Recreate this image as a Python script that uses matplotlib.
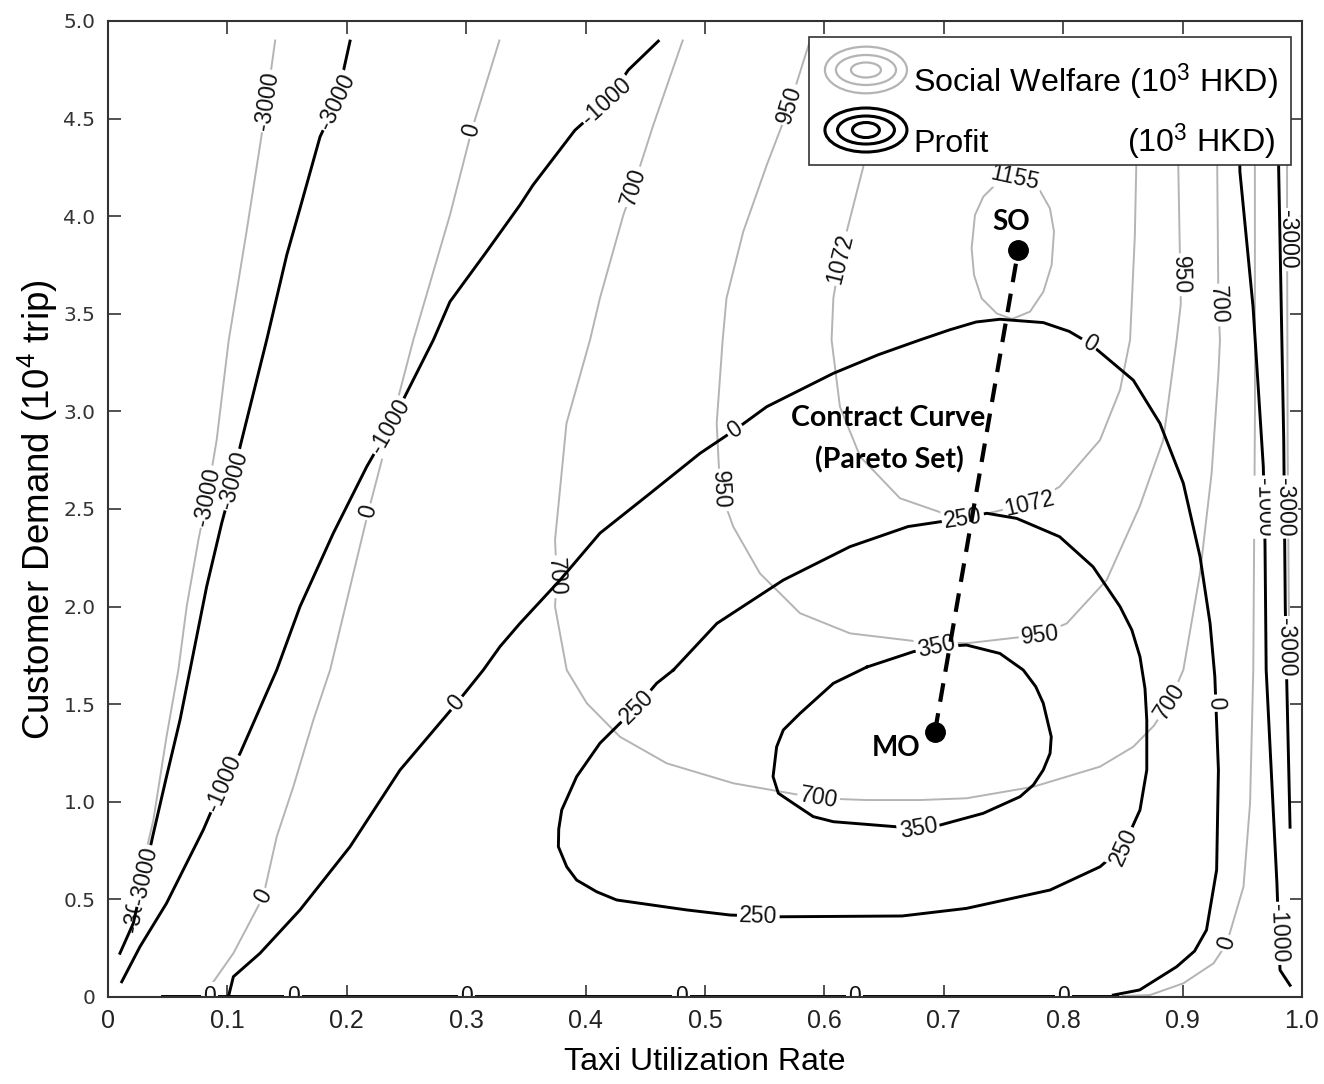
import numpy as np
import matplotlib
matplotlib.use("Agg")
import matplotlib.pyplot as plt
from matplotlib import font_manager
from matplotlib.patches import Ellipse, Rectangle

# x = taxi utilization rate, y = customer demand (10^4 trip)

# social welfare contours (grey), 10^3 HKD
sw_m3000_left_x = [0.021, 0.027, 0.038, 0.049, 0.0589, 0.0659, 0.0757, 0.083, 0.091, 0.101, 0.116, 0.127, 0.133, 0.140]
sw_m3000_left_y = [0.39, 0.616, 0.907, 1.333, 1.675, 2.0, 2.341, 2.563, 2.853, 3.36, 3.92, 4.35, 4.59, 4.90]
sw_0_left_x = [0.083, 0.0854, 0.105, 0.130, 0.1413, 0.1552, 0.172, 0.186, 0.2055, 0.218, 0.2557, 0.2864, 0.3046, 0.3278]
sw_0_left_y = [0.0, 0.053, 0.224, 0.514, 0.821, 1.077, 1.419, 1.675, 2.17, 2.486, 3.366, 4.006, 4.44, 4.90]
sw_700_x = [0.4813, 0.4567, 0.44, 0.4316, 0.412, 0.4037, 0.384, 0.3744, 0.3758, 0.3744, 0.3842, 0.401,
            0.4288, 0.468, 0.5237, 0.595, 0.6354, 0.68, 0.719, 0.775, 0.8308, 0.8587, 0.876, 0.889, 0.9006,
            0.9146, 0.9243, 0.93, 0.9313, 0.930, 0.929, 0.928]
sw_700_y = [4.90, 4.467, 4.15, 4.006, 3.58, 3.366, 2.939, 2.341, 2.153, 2.0, 1.675, 1.505,
            1.333, 1.197, 1.095, 1.018, 1.009, 1.009, 1.018, 1.077, 1.18, 1.282, 1.39, 1.513, 1.675,
            2.17, 2.683, 3.195, 3.366, 3.545, 4.25, 4.90]
sw_950_x = [0.588, 0.585, 0.571, 0.5517, 0.532, 0.518, 0.5148, 0.5098, 0.5126, 0.5237, 0.546, 0.5796,
            0.6214, 0.68, 0.719, 0.7806, 0.803, 0.8364, 0.864, 0.8838, 0.895, 0.8985, 0.8964, 0.896]
sw_950_y = [4.90, 4.843, 4.57, 4.262, 3.92, 3.58, 3.366, 2.939, 2.597, 2.409, 2.17, 1.966,
            1.863, 1.82, 1.812, 1.855, 1.914, 2.136, 2.512, 2.853, 3.366, 3.55, 4.25, 4.90]
sw_1072_x = [0.636, 0.6326, 0.6186, 0.613, 0.6075, 0.606, 0.613, 0.63, 0.6633, 0.6996, 0.735,
             0.772, 0.797, 0.8308, 0.8476, 0.856, 0.860, 0.862]
sw_1072_y = [4.50, 4.254, 3.92, 3.784, 3.58, 3.366, 3.024, 2.768, 2.555, 2.478, 2.475,
             2.529, 2.614, 2.853, 3.11, 3.366, 3.90, 4.50]
sw_1155_x = [0.7597, 0.7694, 0.7806, 0.7889, 0.7923, 0.7903, 0.7834, 0.7722, 0.757, 0.7443, 0.7317,
             0.7253, 0.7233, 0.7261, 0.7331, 0.7471, 0.7597]
sw_1155_y = [4.198, 4.185, 4.13, 4.04, 3.921, 3.75, 3.613, 3.511, 3.473, 3.502, 3.579,
             3.699, 3.836, 4.006, 4.10, 4.185, 4.198]
sw_0_right_x = [0.9605, 0.9606, 0.9592, 0.9565, 0.951, 0.937, 0.926, 0.9006, 0.8727, 0.85]
sw_0_right_y = [4.90, 3.0, 1.675, 0.992, 0.565, 0.275, 0.173, 0.07, 0.01, 0.005]
sw_m3000_right_x = [0.9875, 0.9875, 0.988, 0.989]
sw_m3000_right_y = [4.90, 3.90, 2.80, 1.95]

# profit contours (black), 10^3 HKD
pf_m3000_left_x = [0.010, 0.0212, 0.038, 0.049, 0.0603, 0.0687, 0.0826, 0.0952, 0.105, 0.1106, 0.1329,
                   0.1497, 0.1608, 0.1776, 0.1915, 0.2027]
pf_m3000_left_y = [0.224, 0.378, 0.838, 1.129, 1.419, 1.675, 2.102, 2.427, 2.649, 2.819, 3.366,
                   3.801, 4.04, 4.407, 4.587, 4.897]
pf_m1000_left_x = [0.0115, 0.0268, 0.049, 0.0798, 0.0966, 0.1106, 0.1413, 0.1608, 0.1887, 0.2167, 0.236,
                   0.25, 0.2725, 0.2864, 0.317, 0.345, 0.356, 0.391, 0.4177, 0.4358, 0.4609]
pf_m1000_left_y = [0.078, 0.258, 0.48, 0.856, 1.095, 1.248, 1.675, 2.0, 2.376, 2.717, 2.922,
                   3.093, 3.366, 3.562, 3.818, 4.057, 4.16, 4.44, 4.587, 4.749, 4.897]
pf_0_x = [0.1008, 0.105, 0.1273, 0.1608, 0.2027, 0.2446, 0.292, 0.3143, 0.3283, 0.345, 0.3786, 0.412,
          0.454, 0.4958, 0.525, 0.5517, 0.6075, 0.645, 0.68, 0.705, 0.727, 0.747, 0.7833, 0.805, 0.822,
          0.8587, 0.881, 0.9006, 0.9146, 0.923, 0.927, 0.93, 0.9285, 0.920, 0.91, 0.895, 0.864, 0.842]
pf_0_y = [0.0, 0.104, 0.224, 0.446, 0.77, 1.163, 1.505, 1.675, 1.795, 1.914, 2.136, 2.376,
          2.58, 2.785, 2.905, 3.024, 3.195, 3.29, 3.366, 3.418, 3.458, 3.472, 3.455, 3.41, 3.349,
          3.16, 2.939, 2.632, 2.256, 1.914, 1.641, 1.163, 0.651, 0.343, 0.235, 0.155, 0.036, 0.01]
pf_floor_x = [0.045, 0.845]
pf_floor_y = [0.004, 0.004]
pf_250_x = [0.4735, 0.51, 0.5656, 0.6214, 0.67, 0.716, 0.736, 0.761, 0.797, 0.825, 0.8476, 0.8575, 0.8643,
            0.8685, 0.87, 0.87, 0.8643, 0.8504, 0.8308, 0.789, 0.719, 0.665, 0.5628, 0.521, 0.4847, 0.426,
            0.4093, 0.3925, 0.3842, 0.3772, 0.3775, 0.38, 0.3925, 0.412, 0.4428, 0.4595, 0.4735]
pf_250_y = [1.675, 1.914, 2.136, 2.307, 2.41, 2.452, 2.478, 2.452, 2.358, 2.204, 2.0, 1.88, 1.743,
            1.58, 1.419, 1.163, 0.958, 0.77, 0.667, 0.548, 0.454, 0.415, 0.411, 0.42, 0.446, 0.497,
            0.539, 0.599, 0.667, 0.77, 0.86, 0.958, 1.129, 1.30, 1.487, 1.607, 1.675]
pf_350_x = [0.6354, 0.6745, 0.694, 0.719, 0.747, 0.7666, 0.777, 0.7833, 0.790, 0.789, 0.7833, 0.775, 0.7638,
            0.733, 0.697, 0.6787, 0.6605, 0.6075, 0.5907, 0.574, 0.5614, 0.557, 0.56, 0.5656, 0.5796, 0.6075,
            0.6354]
pf_350_y = [1.69, 1.769, 1.794, 1.803, 1.76, 1.675, 1.59, 1.505, 1.333, 1.248, 1.163, 1.086, 1.026,
            0.941, 0.881, 0.862, 0.872, 0.898, 0.924, 0.992, 1.044, 1.129, 1.282, 1.368, 1.453, 1.607,
            1.69]
pf_m1000_right_x = [0.946, 0.948, 0.959, 0.9676, 0.969, 0.970, 0.979, 0.9816, 0.99]
pf_m1000_right_y = [4.90, 4.228, 3.536, 2.717, 2.324, 1.675, 0.582, 0.138, 0.06]
pf_m3000_right_x = [0.979, 0.9805, 0.9847, 0.986, 0.987, 0.99]
pf_m3000_right_y = [4.90, 4.228, 2.853, 2.0, 1.675, 0.87]

# where the contour values are written
sw_labels = [
    (sw_m3000_left_x, sw_m3000_left_y, "-3000", [(0.133, 4.59), (0.083, 2.563), (0.024, 0.48)]),
    (sw_0_left_x, sw_0_left_y, "0", [(0.3046, 4.44), (0.218, 2.486), (0.130, 0.514)]),
    (sw_700_x, sw_700_y, "700", [(0.44, 4.15), (0.3758, 2.153), (0.595, 1.018), (0.889, 1.513), (0.93, 3.545)]),
    (sw_950_x, sw_950_y, "950", [(0.571, 4.57), (0.5126, 2.597), (0.7806, 1.855), (0.897, 3.70)]),
    (sw_1072_x, sw_1072_y, "1072", [(0.613, 3.784), (0.772, 2.529)]),
    (sw_1155_x, sw_1155_y, "1155", [(0.7597, 4.198)]),
    (sw_0_right_x, sw_0_right_y, "0", [(0.937, 0.275)]),
    (sw_m3000_right_x, sw_m3000_right_y, "-3000", [(0.988, 3.88)]),
]
pf_labels = [
    (pf_m3000_left_x, pf_m3000_left_y, "-3000", [(0.1915, 4.587), (0.105, 2.649), (0.030, 0.62)]),
    (pf_m1000_left_x, pf_m1000_left_y, "-1000", [(0.4177, 4.587), (0.236, 2.922), (0.0966, 1.095)]),
    (pf_0_x, pf_0_y, "0", [(0.292, 1.505), (0.525, 2.905), (0.822, 3.349), (0.927, 1.505)]),
    (pf_floor_x, pf_floor_y, "0", [(0.085, 0.0), (0.155, 0.0), (0.30, 0.0), (0.48, 0.0), (0.625, 0.0), (0.80, 0.0)]),
    (pf_250_x, pf_250_y, "250", [(0.716, 2.452), (0.8504, 0.77), (0.5446, 0.41), (0.4428, 1.487)]),
    (pf_350_x, pf_350_y, "350", [(0.694, 1.794), (0.6787, 0.862)]),
    (pf_m1000_right_x, pf_m1000_right_y, "-1000", [(0.968, 2.51), (0.980, 0.326)]),
    (pf_m3000_right_x, pf_m3000_right_y, "-3000", [(0.9847, 2.51), (0.988, 1.79)]),
]

# optimum points
mo_point = (0.6926, 1.359)
so_point = (0.7624, 3.827)

x_ticks = [0, 0.1, 0.2, 0.3, 0.4, 0.5, 0.6, 0.7, 0.8, 0.9, 1.0]
x_tick_labels = ["0", "0.1", "0.2", "0.3", "0.4", "0.5", "0.6", "0.7", "0.8", "0.9", "1.0"]
y_ticks = [0, 0.5, 1.0, 1.5, 2.0, 2.5, 3.0, 3.5, 4.0, 4.5, 5.0]
y_tick_labels = ["0", "0.5", "1.0", "1.5", "2.0", "2.5", "3.0", "3.5", "4.0", "4.5", "5.0"]

installed = {f.name for f in font_manager.fontManager.ttflist}
SANS = "Liberation Sans"
BOLD_FONT = "Lato" if "Lato" in installed else "DejaVu Sans"

plt.rcParams["mathtext.fontset"] = "custom"
plt.rcParams["mathtext.rm"] = SANS
plt.rcParams["mathtext.it"] = SANS + ":italic"
plt.rcParams["mathtext.bf"] = SANS + ":bold"

GREY = "#b4b4b4"


def draw_contour(ax, xs, ys, text, spots, color, lw, z):
    ax.plot(xs, ys, color=color, lw=lw, zorder=z, solid_joinstyle="round")
    pts = ax.transData.transform(np.column_stack([xs, ys]))
    for spot in spots:
        p = ax.transData.transform(spot)
        best = None
        for a, b in zip(pts[:-1], pts[1:]):
            ab = b - a
            t = np.clip(np.dot(p - a, ab) / max(np.dot(ab, ab), 1e-9), 0, 1)
            q = a + t * ab
            d = np.hypot(*(p - q))
            if best is None or d < best[0]:
                best = (d, q, ab)
        _, q, ab = best
        ang = np.degrees(np.arctan2(ab[1], ab[0]))
        ang = (ang + 90) % 180 - 90
        lx, ly = ax.transData.inverted().transform(q)
        ax.text(lx, ly, text, rotation=ang, rotation_mode="anchor",
                ha="center", va="center", fontsize=16.5, family=SANS, color="#111",
                zorder=z + 0.05, clip_on=True,
                bbox=dict(boxstyle="square,pad=0.1", fc="white", ec="none"))


fig = plt.figure(figsize=(13.24, 10.84), dpi=100)
ax = fig.add_axes([108 / 1324, 87 / 1084, 1194 / 1324, 976 / 1084])
ax.set_xlim(0, 1.0)
ax.set_ylim(0, 5.0)

for xs, ys, text, spots in sw_labels:
    draw_contour(ax, xs, ys, text, spots, GREY, 1.4, 2.0)
for xs, ys, text, spots in pf_labels:
    draw_contour(ax, xs, ys, text, spots, "black", 2.1, 2.2)

# contract curve between monopoly (MO) and social optimum (SO)
ax.plot([mo_point[0], so_point[0]], [mo_point[1], so_point[1]], color="black", lw=3,
        dashes=(4.5, 2.8), zorder=4)
ax.plot(*mo_point, "o", color="black", ms=14, zorder=5)
ax.plot(*so_point, "o", color="black", ms=14, zorder=5)
ax.text(0.7568, 3.972, "SO", fontsize=20, family=BOLD_FONT, weight="bold", ha="center", va="center", zorder=5)
ax.text(0.66, 1.278, "MO", fontsize=20, family=BOLD_FONT, weight="bold", ha="center", va="center", zorder=5)
ax.text(0.6537, 2.966, "Contract Curve", fontsize=20.5, family=BOLD_FONT, weight="bold",
        ha="center", va="center", zorder=5)
ax.text(0.654, 2.751, "(Pareto Set)", fontsize=20.5, family=BOLD_FONT, weight="bold",
        ha="center", va="center", zorder=5)

# legend drawn by hand
ax.add_patch(Rectangle((0.5871, 0.8525), 0.4037, 0.1311, transform=ax.transAxes,
                       fc="white", ec="#333", lw=1.2, zorder=8))
for w, h in [(0.0687, 0.0478), (0.0503, 0.0307), (0.0251, 0.0154)]:
    ax.add_patch(Ellipse((0.6348, 0.9498), w, h, transform=ax.transAxes,
                         fc="none", ec=GREY, lw=1.6, zorder=9))
for w, h in [(0.0687, 0.0451), (0.0477, 0.0287), (0.0226, 0.0154)]:
    ax.add_patch(Ellipse((0.6348, 0.8883), w, h, transform=ax.transAxes,
                         fc="none", ec="black", lw=2.2, zorder=9))
ax.text(0.6742, 0.9273, "Social Welfare (10$^3$ HKD)", transform=ax.transAxes,
        fontsize=23.2, family=SANS, ha="left", va="baseline", zorder=9)
ax.text(0.6742, 0.8658, "Profit", transform=ax.transAxes,
        fontsize=23.2, family=SANS, ha="left", va="baseline", zorder=9)
ax.text(0.9774, 0.8658, "(10$^3$ HKD)", transform=ax.transAxes,
        fontsize=23.2, family=SANS, ha="right", va="baseline", zorder=9)

ax.set_xticks(x_ticks)
ax.set_xticklabels(x_tick_labels, family=SANS, fontsize=18, color="#222")
ax.set_yticks(y_ticks)
ax.set_yticklabels(y_tick_labels, family="DejaVu Sans", fontsize=14.5, color="#333")
ax.tick_params(direction="in", top=True, right=True, length=9, width=1.2, color="#333", pad=9)
for spine in ax.spines.values():
    spine.set_color("#333")
    spine.set_linewidth(1.5)
    spine.set_zorder(10)

ax.text(0.5, -0.0666, "Taxi Utilization Rate", transform=ax.transAxes, family=SANS,
        fontsize=23, ha="center", va="center")
ax.text(-0.0586, 0.499, "Customer Demand (10$^4$ trip)", transform=ax.transAxes, family=SANS,
        fontsize=26.5, rotation=90, ha="center", va="center")

fig.savefig("out.png", dpi=100)
